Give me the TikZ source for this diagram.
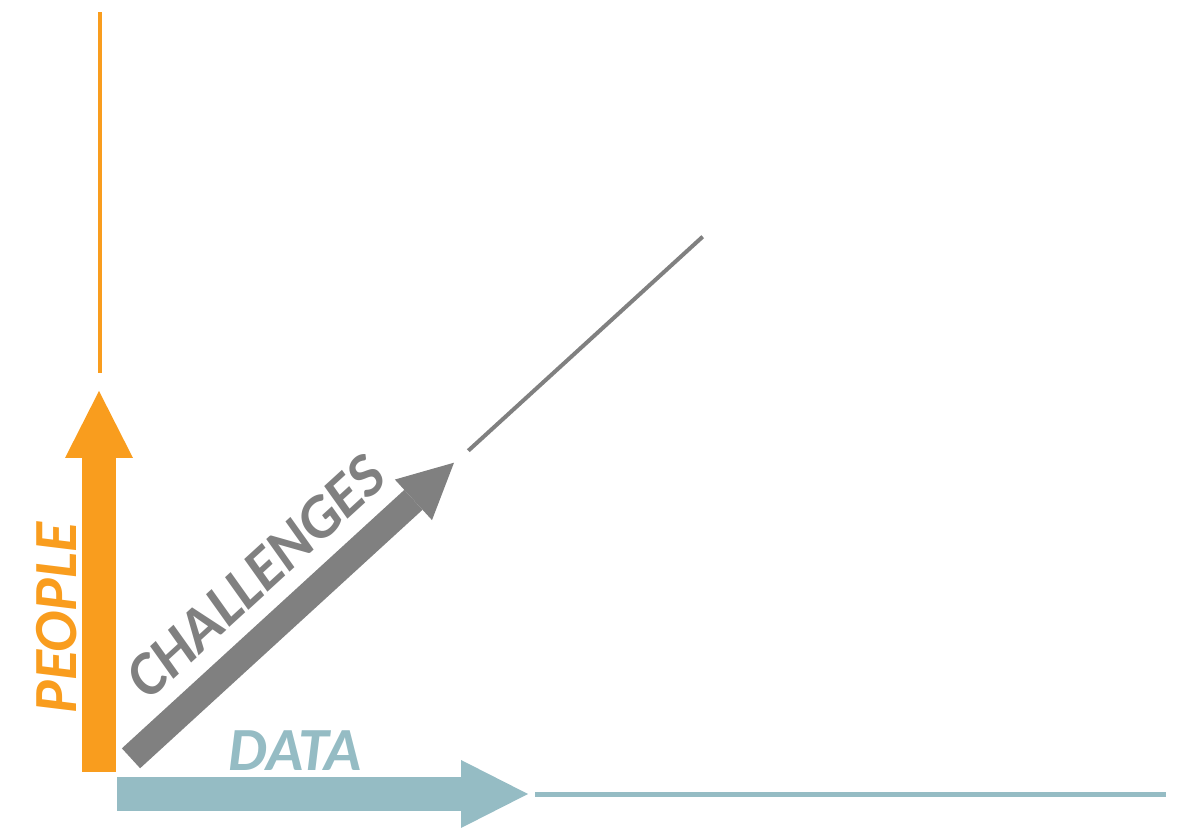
\documentclass[tikz,border=0pt]{standalone}
\usepackage{fontspec}
\setmainfont{Carlito}
\usepackage{tikz}
\usetikzlibrary{arrows.meta}
\definecolor{peopleorange}{RGB}{249,157,30}
\definecolor{datateal}{RGB}{149,188,196}
\definecolor{challgray}{RGB}{128,128,128}
\tikzset{
	axisarrow/.style={line width=25.5pt, -{Triangle[length=50.25pt, width=51pt, line width=0pt]}},
	diagarrow/.style={line width=20.25pt, -{Triangle[length=41.25pt, width=41.25pt, line width=0pt]}},
	axisline/.style={line width=3pt},
	axislabel/.style={font=\fontsize{46}{52}\selectfont\bfseries\itshape, inner sep=0pt}
}

\begin{document}
\begin{tikzpicture}[x=0.75pt,y=0.75pt]
			\useasboundingbox (0,0) rectangle (1201,837);
			\coordinate (peoplebase) at (99,65);
			\coordinate (peopletip) at (99,446);
			\coordinate (peoplefrom) at (100,464);
			\coordinate (peopleto) at (100,825);
			\coordinate (database) at (117,43);
			\coordinate (datatip) at (528,43);
			\coordinate (datafrom) at (535,42.5);
			\coordinate (datato) at (1166,42.5);
			\coordinate (challbase) at (131,78.7);
			\coordinate (challtip) at (454,374.3);
			\coordinate (challfrom) at (468.3,386.3);
			\coordinate (challto) at (702.7,600.3);
			
			\draw [peopleorange, axisarrow] (peoplebase)-- (peopletip);
			\draw [peopleorange, axisline] (peoplefrom)-- (peopleto);
			\draw [datateal, axisarrow] (database)-- (datatip);
			\draw [datateal, line width=3.4pt] (datafrom)-- (datato);
			\draw [challgray, diagarrow] (challbase)-- node[axislabel, sloped, pos=0.49, above=12pt] (challlabel) {CHALLENGES} (challtip);
			\draw [challgray, axisline] (challfrom)-- (challto);
			
			\node[axislabel, text=peopleorange, rotate=90] (peoplelabel) at (56.7,219) {PEOPLE};
			\node[axislabel, text=datateal] (datalabel) at (295,86) {DATA};
		\end{tikzpicture}
\end{document}
